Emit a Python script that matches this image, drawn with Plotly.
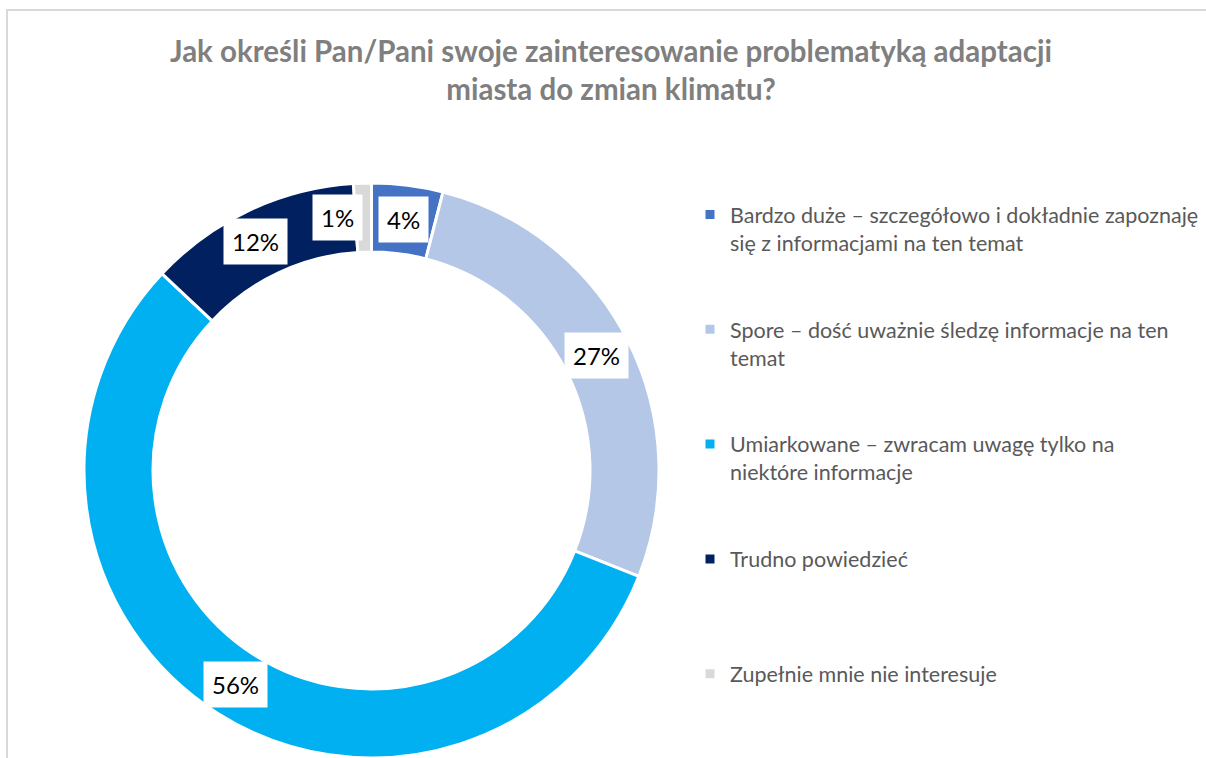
import math
import plotly.graph_objects as go

# Survey answers (share of respondents, %)
categories = [
    "Bardzo duże – szczegółowo i dokładnie zapoznaję<br>się z informacjami na ten temat",
    "Spore – dość uważnie śledzę informacje na ten<br>temat",
    "Umiarkowane – zwracam uwagę tylko na<br>niektóre informacje",
    "Trudno powiedzieć",
    "Zupełnie mnie nie interesuje",
]
values = [4, 27, 56, 12, 1]
value_labels = ["4%", "27%", "56%", "12%", "1%"]
colors = ["#4472C4", "#B4C7E7", "#00B0F0", "#002060", "#D9D9D9"]

W, H = 1206, 758
FONT = "Lato"

# pie placement (pixels)
cx, top = 371.5, 183
radius = min(H - top, 2 * cx) / 2
cy = top + radius
hole = 0.76

# pad legend entries so every entry takes the same vertical space
LEGEND_LINES = 4
legend_names = []
for i, name in enumerate(categories):
    n = name.count("<br>") + 1
    pad = LEGEND_LINES - n if i < len(categories) - 1 else 0
    legend_names.append(name + "<br>\u00a0" * pad)

fig = go.Figure(
    go.Pie(
        labels=legend_names,
        values=values,
        hole=hole,
        sort=False,
        direction="clockwise",
        rotation=0,
        marker=dict(colors=colors, line=dict(color="white", width=3)),
        textinfo="none",
        hoverinfo="label+percent",
        domain=dict(
            x=[(cx - radius) / W, (cx + radius) / W],
            y=[0, (H - top) / H],
        ),
    )
)

# value labels in white boxes at the middle of each ring segment
label_shift = [0, 0, 0, -8, -26]
mid_r = radius * (1 + hole) / 2
total = sum(values)
cum = 0
for v, txt, dx in zip(values, value_labels, label_shift):
    ang = math.radians((cum + v / 2) / total * 360)
    cum += v
    px = cx + mid_r * math.sin(ang)
    py = cy - mid_r * math.cos(ang)
    fig.add_annotation(
        x=px / W, y=1 - py / H, xref="paper", yref="paper",
        text=txt, showarrow=False, xshift=dx,
        font=dict(family=FONT, size=24, color="#000000"),
        bgcolor="white", borderpad=8,
        xanchor="center", yanchor="middle",
    )

# chart-area frame
fig.add_shape(
    type="rect", xref="paper", yref="paper",
    x0=7 / W, x1=1.05, y0=-0.05, y1=1 - 10 / H,
    line=dict(color="#D9D9D9", width=2), fillcolor="rgba(0,0,0,0)",
    layer="below",
)

fig.update_layout(
    width=W, height=H,
    margin=dict(l=0, r=0, t=0, b=0, autoexpand=False),
    paper_bgcolor="white",
    plot_bgcolor="white",
    title=dict(
        text="<b>Jak określi Pan/Pani swoje zainteresowanie problematyką adaptacji<br>miasta do zmian klimatu?</b>",
        x=611 / W, xanchor="center",
        y=1 - 62 / H, yanchor="top",
        font=dict(family=FONT, size=29.5, color="#7F7F7F"),
    ),
    showlegend=True,
    legend=dict(
        x=690 / W, xanchor="left",
        y=1 - 194 / H, yanchor="top",
        valign="top",
        font=dict(family=FONT, size=21.5, color="#595959"),
        bgcolor="rgba(0,0,0,0)",
        itemclick=False, itemdoubleclick=False,
    ),
)

fig.write_html("out.html")
